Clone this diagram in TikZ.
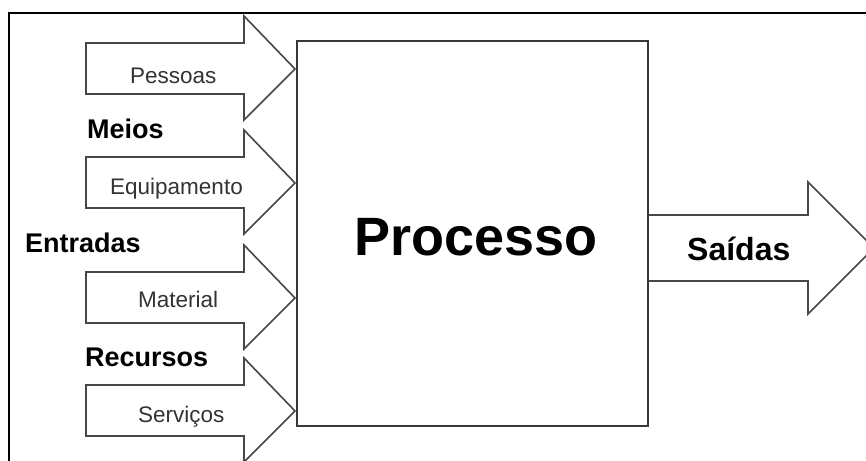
\documentclass[tikz,border=0pt]{standalone}
\usepackage{fontspec}
\setmainfont{Liberation Sans}
\begin{document}
\begin{tikzpicture}[x=1pt,y=-1pt,
  frame/.style={draw=black,line width=1.8pt},
  arrowshape/.style={draw=black!72,line width=1.6pt,fill=white,line join=miter},
  procbox/.style={draw=black!78,line width=1.6pt,fill=white},
  small/.style={inner sep=0pt,anchor=base west,text=black!80,font=\fontsize{22.5}{26}\selectfont},
  group/.style={inner sep=0pt,anchor=base west,font=\bfseries\fontsize{27}{30}\selectfont},
  outlbl/.style={inner sep=0pt,anchor=base west,font=\bfseries\fontsize{32}{36}\selectfont},
  proclbl/.style={inner sep=0pt,anchor=base west,font=\bfseries\fontsize{54}{58}\selectfont}]
\useasboundingbox (0,0) rectangle (866,460);
\clip (0,0) rectangle (866,460);
\fill[white] (0,0) rectangle (866,460);
% outer frame (open to right and bottom)
\draw[frame] (9,470) -- (9,13) -- (880,13);
% input arrows
\foreach \cy in {69,183,298,411}{
  \draw[arrowshape] (86,\cy-26) -- (244,\cy-26) -- (244,\cy-53) -- (295,\cy)
     -- (244,\cy+51) -- (244,\cy+25) -- (86,\cy+25) -- cycle;
}
% output arrow
\draw[arrowshape] (640,215) -- (808,215) -- (808,182) -- (874,248)
   -- (808,314) -- (808,281) -- (640,281) -- cycle;
% process box
\node[procbox,minimum width=351pt,minimum height=385pt,inner sep=0pt,anchor=north west] (proc) at (296,40) {};
% labels
\node[small] (pessoas) at (130,83) {Pessoas};
\node[group] (meios) at (87,138) {Meios};
\node[small] (equip) at (110,194) {Equipamento};
\node[group] (entradas) at (25,252) {Entradas};
\node[small] (material) at (138,307) {Material};
\node[group] (recursos) at (85,366) {Recursos};
\node[small] (servicos) at (138,422) {Serviços};
\node[proclbl] (proclabel) at (354,255) {Processo};
\node[outlbl] (saidas) at (687,260) {Saídas};
\end{tikzpicture}
\end{document}
